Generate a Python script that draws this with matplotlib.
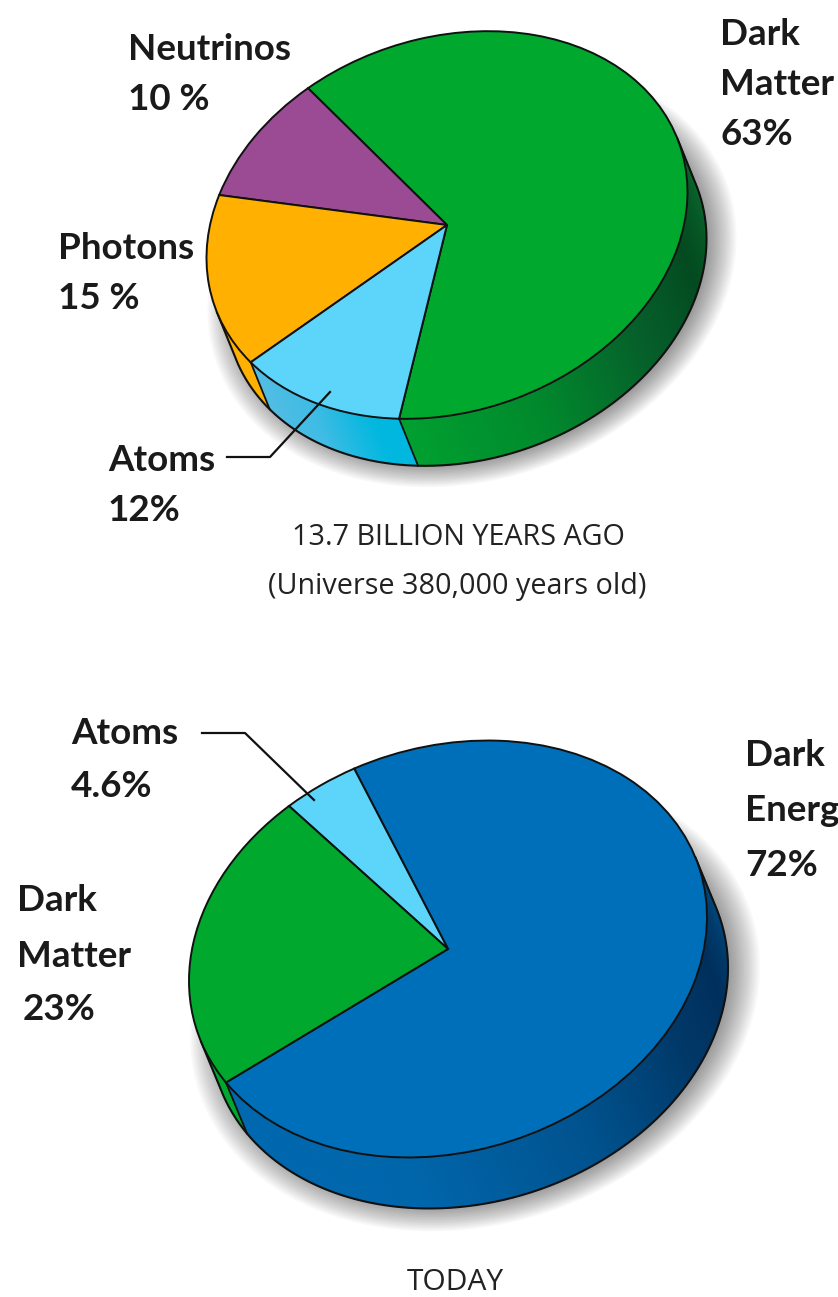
import numpy as np
import matplotlib
matplotlib.use('Agg')
import matplotlib.pyplot as plt
from matplotlib.transforms import Affine2D
from matplotlib.colors import to_rgb

# data
past_labels = ['Dark Matter', 'Neutrinos', 'Photons', 'Atoms']
past_values = [63, 10, 15, 12]
past_colors = ['#00A82D', '#9A4B93', '#FFB000', '#5DD5FA']
today_labels = ['Dark Energy', 'Atoms', 'Dark Matter']
today_values = [72, 4.6, 23]
today_colors = ['#006FB9', '#5DD5FA', '#00A82D']

past_side = {
    'Dark Matter': [(-101, '#00A030'), (-70, '#008A2C'), (-40, '#05602A'), (-15, '#034A20'), (15, '#0A6A2C'), (40, '#00802C')],
    'Neutrinos': [(0, '#9A4B93')],
    'Photons': [(0, '#FFB000')],
    'Atoms': [(-145, '#55BDE3'), (-125, '#3FBDE6'), (-108, '#00B8E0')],
}
today_side = {
    'Dark Energy': [(-150, '#0068B0'), (-100, '#0066AC'), (-60, '#00528E'), (-30, '#003868'), (-10, '#002F5C'), (15, '#00487E'), (40, '#005A9A')],
    'Atoms': [(0, '#5DD5FA')],
    'Dark Matter': [(0, '#00A82D')],
}

fig = plt.figure(figsize=(8.38, 12.97), dpi=100)
ax = fig.add_axes([0, 0, 1, 1])
INK = '#111111'


def draw(values, colors, labels, side, cx, cy, a, c, d, off, start):
    sx, sy = off

    def pts(t, dx=0, dy=0, k=1.0):
        return (cx + dx + k * a * np.cos(t), cy + dy - k * (c * np.cos(t) + d * np.sin(t)))

    def outward(t):
        tx = -a * np.sin(t)
        ty = c * np.sin(t) - d * np.cos(t)
        return (tx * sy - ty * sx) > 0

    tt = np.linspace(0, 2 * np.pi, 361)
    # soft shadow
    for k in np.linspace(1.10, 0.94, 22):
        x, y = pts(tt, sx + 6, sy + 2, k)
        ax.fill(x, y, color='black', alpha=0.026, lw=0, zorder=1)
    # side wall, one thin quad per half degree of each slice
    frac = np.array(values) / np.sum(values) * 360
    angs = start + np.concatenate([[0], np.cumsum(frac)])
    for i, lab in enumerate(labels):
        stops = side[lab]
        for t0 in np.arange(angs[i], angs[i + 1], 0.5):
            t1 = min(t0 + 0.5, angs[i + 1])
            r = np.radians([t0, t1])
            if not outward(r.mean()):
                continue
            w = ((t0 + 180) % 360) - 180
            xs = [s[0] for s in stops]
            rgb = [np.interp(w, xs, [to_rgb(s[1])[j] for s in stops]) for j in range(3)]
            x0, y0 = pts(r)
            x1, y1 = pts(r, sx, sy)
            ax.fill([x0[0], x0[1], x1[1], x1[0]], [y0[0], y0[1], y1[1], y1[0]],
                    color=rgb, lw=0.6, zorder=2)
    # outer edge of the wall: contiguous visible arc plus the two hull connectors
    tv = np.radians(np.arange(0, 360, 0.25))
    vis = outward(tv)
    first = np.argmax(vis & ~np.roll(vis, 1))
    tv = np.roll(tv, -first)[:vis.sum()]
    xo, yo = pts(tv, sx, sy)
    xt, yt = pts(tv[[0, -1]])
    ax.plot(np.r_[xt[0], xo, xt[1]], np.r_[yt[0], yo, yt[1]], color=INK, lw=1.5, zorder=3)
    # slice edges on the wall
    for g in angs[:-1]:
        r = np.array([np.radians(g)])
        if outward(r)[0]:
            x0, y0 = pts(r)
            x1, y1 = pts(r, sx, sy)
            ax.plot([x0[0], x1[0]], [y0[0], y1[0]], color=INK, lw=1.3, zorder=3)
    # top face
    wedges, _ = ax.pie(values, colors=colors, startangle=start, radius=1, frame=True,
                       wedgeprops=dict(edgecolor=INK, linewidth=1.4, zorder=4))
    M = Affine2D.from_values(a, -c, 0, -d, cx, cy)
    for wd in wedges:
        wd.set_transform(M + ax.transData)


draw(past_values, past_colors, past_labels, past_side,
     447, 225, 240.5, 33, 191, (19, 47), 258.5)
draw(today_values, today_colors, today_labels, today_side,
     448, 949, 259, 32, 206, (21, 51), 211)

ax.set_xlim(0, 838)
ax.set_ylim(1297, 0)
ax.set_aspect('auto')
ax.axis('off')

# leaders
ax.plot([227, 270, 330], [457, 457, 392], color=INK, lw=1.6, zorder=6)
ax.plot([202, 245, 314], [733, 733, 800], color=INK, lw=1.6, zorder=6)

bold = dict(family=['Lato', 'DejaVu Sans'], fontweight='bold', fontsize=26.5,
            color='#1A1A1A', va='baseline', ha='left', zorder=7)
for s, x, y in [('Neutrinos', 128, 60), ('10 %', 128, 110), ('Photons', 58, 259), ('15 %', 58, 309),
                ('Atoms', 108, 471), ('12%', 108, 521), ('Dark', 720, 45), ('Matter', 720, 95), ('63%', 720, 145),
                ('Atoms', 71, 744), ('4.6%', 71, 797), ('Dark', 17, 911), ('Matter', 17, 967), ('23%', 23, 1020),
                ('Dark', 745, 766), ('Energy', 745, 821), ('72%', 745, 876)]:
    ax.text(x, y, s, **bold)

cap = dict(family='Open Sans', fontsize=20.7, color='#222222', ha='center', va='baseline', zorder=7)
ax.text(458, 545, '13.7 BILLION YEARS AGO', **cap)
ax.text(457.5, 594, '(Universe 380,000 years old)', **cap)
ax.text(455, 1290, 'TODAY', **{**cap, 'fontsize': 21.5})

fig.savefig('out.png', dpi=100)
